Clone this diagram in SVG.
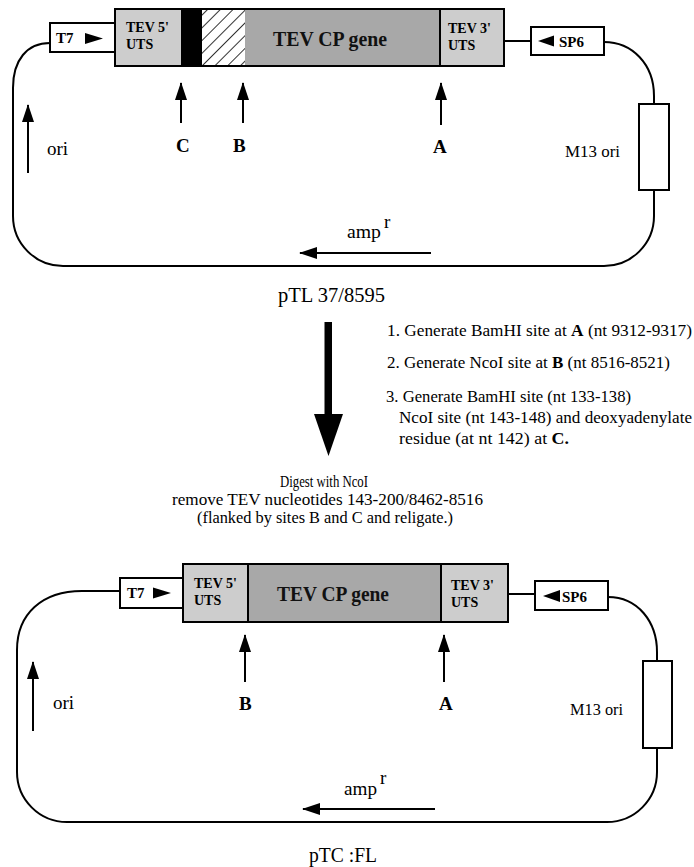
<svg xmlns="http://www.w3.org/2000/svg" width="694" height="867" viewBox="0 0 694 867">
<defs>
<style>
.ln{fill:none;stroke:#000;stroke-width:2}
.ar{fill:none;stroke:#000;stroke-width:2;marker-end:url(#ah)}
.bx{stroke:#000;stroke-width:2}
.wb{fill:#fff;stroke:#000;stroke-width:2}
.uts{fill:#cdcdcd}
.cp{fill:#a8a8a8}
text{font-family:"Liberation Serif","Times New Roman",serif;fill:#000}
.lbl{font-size:14px;font-weight:bold}
.gene{font-size:21px;font-weight:bold;fill:#111}
.site{font-size:19px;font-weight:bold}
.body{font-size:17px}
.ori{font-size:19px}
.amp{font-size:18px}
.m13{font-size:16px}
.title{font-size:21px}
.prom{font-size:15px;font-weight:bold}
.bs{font-weight:bold}
</style>
<marker id="ah" markerUnits="userSpaceOnUse" markerWidth="18" markerHeight="12" refX="17" refY="6" orient="auto">
<path d="M0,0 L18,6 L0,12 z" fill="#000"/>
</marker>
<pattern id="hatch" patternUnits="userSpaceOnUse" width="9" height="9" patternTransform="rotate(45)">
<rect width="9" height="9" fill="#fff"/>
<line x1="0" y1="0" x2="0" y2="9" stroke="#000" stroke-width="1.6"/>
</pattern>
</defs>
<rect width="694" height="867" fill="#fff"/>

<g id="connectors">
<path class="ln" d="M50,43 C27,43 13,60 13,88 L13,216 A50,50 0 0 0 63,266 L604,266 A50,50 0 0 0 654,216 L654,190"/>
<path class="ln" d="M604,42 C632,42 654,64 654,96 L654,104"/>
<path class="ln" d="M504,41 L531,41"/>
<path class="ar" d="M28,173 L28,105"/>
<path class="ar" d="M181,123 L181,83"/>
<path class="ar" d="M243,123 L243,83"/>
<path class="ar" d="M441,125 L441,83"/>
<path class="ar" d="M431,253 L300,253"/>

<path class="ln" d="M120,591 L82,591 C42,591 17,614 17,650 L17,772 A50,50 0 0 0 67,822 L607,822 A50,50 0 0 0 657,772 L657,748"/>
<path class="ln" d="M608,597 C638,597 657,622 657,652 L657,661"/>
<path class="ln" d="M508,594 L535,594"/>
<path class="ar" d="M33,731 L33,662"/>
<path class="ar" d="M245,682 L245,635"/>
<path class="ar" d="M444,682 L444,635"/>
<path class="ar" d="M435,809 L303,809"/>
</g>

<g id="top-T7">
<rect class="wb" x="50" y="23" width="65" height="29"/>
<text class="prom" x="56" y="43">T7</text>
<polygon points="85,33 103,38.5 85,44" fill="#000"/>
</g>
<g id="top-insert">
<rect class="uts" x="115" y="9" width="66" height="57"/>
<rect fill="#000" x="181" y="9" width="21" height="57"/>
<rect fill="url(#hatch)" x="202" y="9" width="43" height="57"/>
<rect class="cp" x="245" y="9" width="195" height="57"/>
<rect class="uts" x="440" y="9" width="64" height="57"/>
<rect fill="none" class="bx" x="115" y="9" width="389" height="57"/>
<line class="ln" x1="440" y1="9" x2="440" y2="66" stroke-width="1.5"/>
<text class="lbl" x="126" y="32">TEV 5'</text>
<text class="lbl" x="126" y="49">UTS</text>
<text class="gene" x="273" y="46" textLength="114" lengthAdjust="spacingAndGlyphs">TEV CP gene</text>
<text class="lbl" x="448" y="33">TEV 3'</text>
<text class="lbl" x="448" y="50">UTS</text>
</g>
<g id="top-SP6">
<rect class="wb" x="531" y="27" width="73" height="28"/>
<polygon points="538,41 554,35.5 554,46.5" fill="#000"/>
<text class="prom" x="559" y="47">SP6</text>
</g>
<g id="top-M13">
<rect class="wb" x="639" y="104" width="30" height="86"/>
<text class="m13" x="565" y="157" textLength="55" lengthAdjust="spacingAndGlyphs">M13 ori</text>
</g>
<g id="top-labels">
<text class="ori" x="47" y="155">ori</text>
<text class="site" x="176" y="152">C</text>
<text class="site" x="233" y="152">B</text>
<text class="site" x="433" y="153">A</text>
<text class="amp" x="347" y="238" textLength="34" lengthAdjust="spacingAndGlyphs">amp</text>
<text class="ori" x="384" y="228">r</text>
<text class="title" x="278" y="302" textLength="107" lengthAdjust="spacingAndGlyphs">pTL 37/8595</text>
</g>

<g id="process">
<rect x="324.5" y="322" width="7.5" height="96" fill="#000"/>
<polygon points="314,414 343,414 328.5,456" fill="#000"/>
<text class="body" x="387" y="336" textLength="305" lengthAdjust="spacingAndGlyphs">1. Generate BamHI site at <tspan class="bs">A</tspan>  (nt 9312-9317)</text>
<text class="body" x="387" y="368" textLength="283" lengthAdjust="spacingAndGlyphs">2. Generate NcoI site at  <tspan class="bs">B</tspan>  (nt 8516-8521)</text>
<text class="body" x="386" y="402" textLength="245" lengthAdjust="spacingAndGlyphs">3.  Generate BamHI site (nt 133-138)</text>
<text class="body" x="399" y="423" textLength="293" lengthAdjust="spacingAndGlyphs">NcoI site (nt 143-148) and deoxyadenylate</text>
<text class="body" x="399" y="444" textLength="170" lengthAdjust="spacingAndGlyphs">residue (at nt 142) at <tspan class="bs">C.</tspan></text>
<text class="body" x="280" y="487" textLength="88" lengthAdjust="spacingAndGlyphs">Digest with NcoI</text>
<text class="body" x="172" y="505" textLength="311" lengthAdjust="spacingAndGlyphs">remove TEV nucleotides 143-200/8462-8516</text>
<text class="body" x="197" y="523" textLength="256" lengthAdjust="spacingAndGlyphs">(flanked by sites B and C and religate.)</text>
</g>

<g id="bot-T7">
<rect class="wb" x="120" y="578" width="63" height="30"/>
<text class="prom" x="127" y="598">T7</text>
<polygon points="153,587.5 171,593 153,598.5" fill="#000"/>
</g>
<g id="bot-insert">
<rect class="uts" x="183" y="564" width="65" height="58"/>
<rect class="cp" x="248" y="564" width="193" height="58"/>
<rect class="uts" x="441" y="564" width="67" height="58"/>
<rect fill="none" class="bx" x="183" y="564" width="325" height="58"/>
<line class="ln" x1="248" y1="564" x2="248" y2="622" stroke-width="1.5"/>
<line class="ln" x1="441" y1="564" x2="441" y2="622" stroke-width="1.5"/>
<text class="lbl" x="194" y="588">TEV 5'</text>
<text class="lbl" x="194" y="605">UTS</text>
<text class="gene" x="277" y="601" textLength="112" lengthAdjust="spacingAndGlyphs">TEV CP gene</text>
<text class="lbl" x="451" y="590">TEV 3'</text>
<text class="lbl" x="451" y="607">UTS</text>
</g>
<g id="bot-SP6">
<rect class="wb" x="535" y="581" width="73" height="29"/>
<polygon points="543,596 560,590 560,602" fill="#000"/>
<text class="prom" x="562" y="602">SP6</text>
</g>
<g id="bot-M13">
<rect class="wb" x="643" y="661" width="29" height="87"/>
<text class="m13" x="570" y="715" textLength="53" lengthAdjust="spacingAndGlyphs">M13 ori</text>
</g>
<g id="bot-labels">
<text class="ori" x="53" y="709">ori</text>
<text class="site" x="239" y="710">B</text>
<text class="site" x="439" y="710">A</text>
<text class="amp" x="344" y="795" textLength="33" lengthAdjust="spacingAndGlyphs">amp</text>
<text class="ori" x="380" y="784">r</text>
<text class="title" x="309" y="862" textLength="68" lengthAdjust="spacingAndGlyphs">pTC :FL</text>
</g>
</svg>
